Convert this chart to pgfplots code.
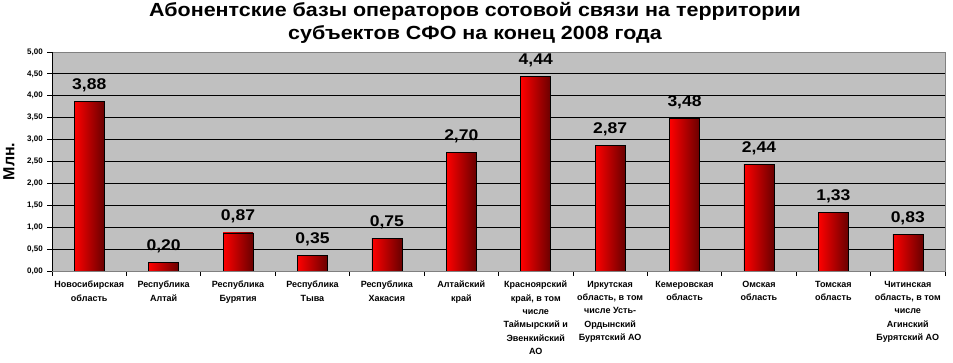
\documentclass[border=0pt]{standalone}
\usepackage{fontspec}
\setmainfont{Liberation Sans}
\newfontfamily\widefont[FakeStretch=1.13]{Liberation Sans}
\usepackage{pgfplots}
\pgfplotsset{compat=1.18}
\definecolor{plotbg}{RGB}{192,192,192}
\definecolor{barred}{RGB}{255,0,0}
\definecolor{bardark}{RGB}{105,0,0}
\begin{document}
\begin{tikzpicture}
\begin{axis}[
  at={(0,0)}, anchor=south west,
  scale only axis, width=893pt, height=219pt,
  xmin=-0.5, xmax=11.5, ymin=0, ymax=5,
  enlargelimits=false,
  /pgf/number format/assume math mode=true,
  axis background/.style={fill=plotbg},
  axis line style={draw=gray, line width=0.8pt},
  ymajorgrids, grid style={black, line width=0.9pt},
  ytick={0,0.5,1,1.5,2,2.5,3,3.5,4,4.5,5},
  xtick={0,1,2,3,4,5,6,7,8,9,10,11},
  minor xtick={-0.5,0.5,1.5,2.5,3.5,4.5,5.5,6.5,7.5,8.5,9.5,10.5,11.5},
  xtick pos=bottom, ytick pos=left,
  tick align=outside,
  major tick length=5pt, minor tick length=5pt,
  major x tick style={draw=none},
  minor x tick style={draw=black, line width=0.8pt},
  ytick style={draw=black, line width=0.8pt},
  yticklabel style={font=\bfseries\fontsize{8}{9}\selectfont, inner sep=0pt, xshift=-4pt,
     /pgf/number format/.cd, fixed, fixed zerofill, precision=2, use comma},
  xticklabels={{Новосибирская\\область},{Республика\\Алтай},{Республика\\Бурятия},{Республика\\Тыва},{Республика\\Хакасия},{Алтайский\\край},{Красноярский\\край, в том\\числе\\Таймырский и\\Эвенкийский\\АО},{Иркутская\\область, в том\\числе Усть-\\Ордынский\\Бурятский АО},{Кемеровская\\область},{Омская\\область},{Томская\\область},{Читинская\\область, в том\\числе\\Агинский\\Бурятский АО}},
  xticklabel style={font=\bfseries\fontsize{9}{13.3}\selectfont, align=center, anchor=north, inner sep=0pt, yshift=-5pt},
  nodes near coords={\pgfmathprintnumber[fixed,fixed zerofill,precision=2,use comma]{\pgfplotspointmeta}},
  every node near coord/.append style={font=\widefont\bfseries\fontsize{15.5}{18}\selectfont, anchor=base, yshift=12pt, black},
  mybar/.style={ybar, bar shift=0pt, bar width=30pt, draw=black, line width=0.6pt, left color=barred, right color=bardark},
]
\addplot[mybar] coordinates {(0,3.88)};
\addplot[mybar] coordinates {(1,0.20)};
\addplot[mybar] coordinates {(2,0.87)};
\addplot[mybar] coordinates {(3,0.35)};
\addplot[mybar] coordinates {(4,0.75)};
\addplot[mybar] coordinates {(5,2.70)};
\addplot[mybar] coordinates {(6,4.44)};
\addplot[mybar] coordinates {(7,2.87)};
\addplot[mybar] coordinates {(8,3.48)};
\addplot[mybar] coordinates {(9,2.44)};
\addplot[mybar] coordinates {(10,1.33)};
\addplot[mybar] coordinates {(11,0.83)};
\draw[black, line width=0.8pt] (rel axis cs:0,0) -- (rel axis cs:0,1);
\draw[black, line width=0.8pt] (rel axis cs:0,0) -- (rel axis cs:1,0);
\end{axis}
\node[anchor=base, font=\widefont\bfseries\fontsize{19}{22}\selectfont] at (423pt,254.3pt) {Абонентские базы операторов сотовой связи на территории};
\node[anchor=base, font=\widefont\bfseries\fontsize{19}{22}\selectfont] at (423pt,231pt) {субъектов СФО на конец 2008 года};
\node[rotate=90, font=\bfseries\fontsize{16}{18}\selectfont] at (-43pt,109.5pt) {Млн.};
\pgfresetboundingbox
\path[use as bounding box] (-52pt,-92pt) rectangle (901pt,271pt);
\end{tikzpicture}
\end{document}
